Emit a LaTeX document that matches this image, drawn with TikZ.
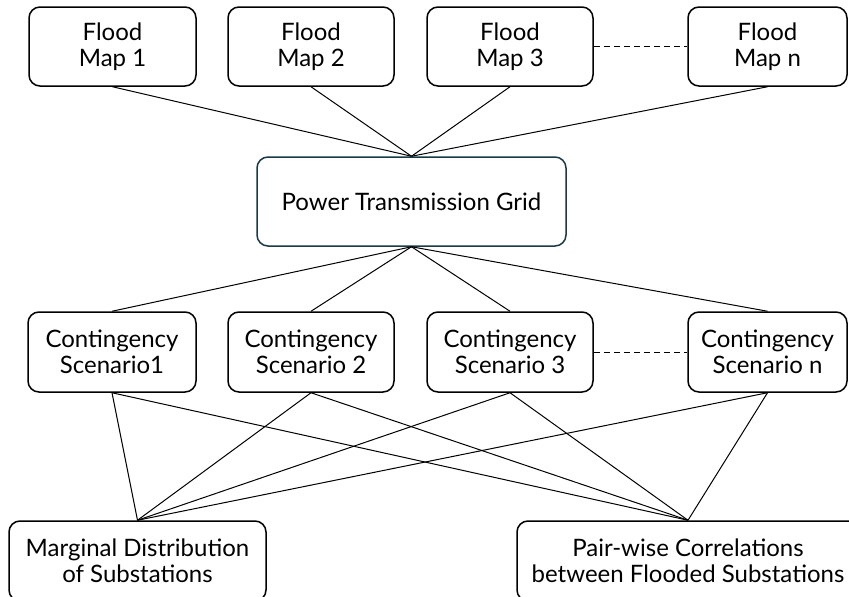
\documentclass[tikz,border=0pt]{standalone}
\usepackage{fontspec}
\setmainfont{Lato}
\definecolor{gridedge}{HTML}{1B3A47}
\begin{document}
\begin{tikzpicture}[x=1pt,y=-1pt,
  box/.style={draw=black,line width=1.5pt,rounded corners=11pt,align=center,
    inner sep=0pt,minimum height=79pt,font=\fontsize{24}{26}\selectfont},
  link/.style={draw=black,line width=1pt},
  gap/.style={draw=black,line width=1pt,dash pattern=on 6pt off 4pt}]
\clip (0,0) rectangle (849,597);
\fill[white] (0,0) rectangle (849,597);
% flood maps
\node[box,minimum width=167pt] (m1) at (112.5,46.5) {Flood\\Map 1};
\node[box,minimum width=166pt] (m2) at (311,46.5) {Flood\\Map 2};
\node[box,minimum width=166pt] (m3) at (510,46.5) {Flood\\Map 3};
\node[box,minimum width=159pt] (mn) at (767.5,46.5) {Flood\\Map n};
% grid
\node[box,draw=gridedge,minimum width=309pt,minimum height=89pt] (grid) at (411.5,201.5) {Power Transmission Grid};
% contingency scenarios
\node[box,minimum width=168pt,minimum height=80pt] (s1) at (112,352) {Contingency\\Scenario1};
\node[box,minimum width=166pt,minimum height=80pt] (s2) at (311,352) {Contingency\\Scenario 2};
\node[box,minimum width=166pt,minimum height=80pt] (s3) at (510,352) {Contingency\\Scenario 3};
\node[box,minimum width=159pt,minimum height=80pt] (sn) at (767.5,352) {Contingency\\Scenario n};
% outputs
\node[box,minimum width=257pt,minimum height=80pt] (marg) at (137.5,561) {Marginal Distribution\\of Substations};
\node[box,minimum width=342pt,minimum height=80pt] (pair) at (688,561) {Pair-wise Correlations\\between Flooded Substations};
% connectors
\foreach \n in {m1,m2,m3,mn} \draw[link] (\n.south) -- (grid.north);
\foreach \n in {s1,s2,s3,sn} {
  \draw[link] (grid.south) -- (\n.north);
  \draw[link] (\n.south) -- (marg.north);
  \draw[link] (\n.south) -- (pair.north);
}
\draw[gap] (m3.east) -- (mn.west);
\draw[gap] (s3.east) -- (sn.west);
\end{tikzpicture}
\end{document}
